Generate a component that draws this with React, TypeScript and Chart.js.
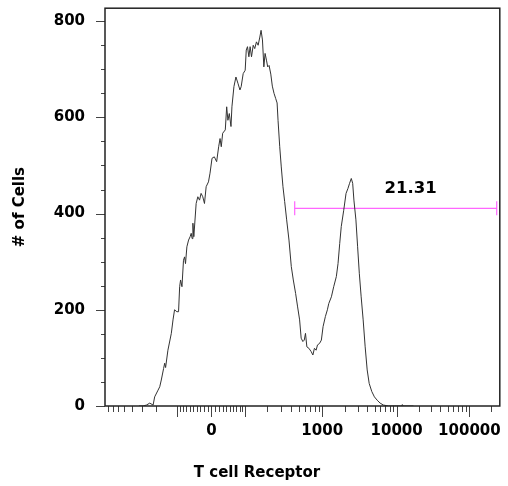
import React, { useEffect, useRef } from 'react';
import { Chart, registerables } from 'chart.js';

Chart.register(...registerables);

// Histogram: x = logicle display channel (0-256), y = # of cells
const channels = [
  22.0, 24.7, 26.9, 29.0, 31.2, 32.2, 34.4, 35.5, 36.5, 38.0, 38.7, 39.3, 40.8, 43.0, 44.1, 45.1,
  46.6, 47.7, 48.4, 49.0, 49.9, 50.9, 51.6, 52.2, 53.1, 54.2, 55.2, 55.9, 56.5, 57.0, 57.6, 59.1,
  60.2, 61.3, 62.3, 63.4, 64.5, 65.6, 67.1, 68.1, 69.4, 70.9, 72.4, 73.7, 74.6, 75.4, 76.3, 78.0,
  78.9, 79.7, 80.6, 81.7, 82.3, 83.6, 84.9, 86.2, 87.5, 88.3, 89.6, 90.9, 91.6, 92.4, 93.3, 94.1,
  95.0, 96.1, 97.1, 98.2, 99.3, 100.4, 101.2, 102.1, 103.0, 103.8, 104.7, 105.5, 106.4, 107.5, 108.5, 109.6,
  110.7, 111.6, 112.2, 113.3, 114.3, 115.4, 116.5, 117.8, 119.3, 120.8, 122.1, 123.6, 124.9, 126.2, 127.2, 128.3,
  129.2, 130.0, 130.9, 132.2, 133.7, 134.8, 135.8, 136.9, 137.8, 139.1, 140.3, 141.4, 142.9, 144.2, 145.1, 146.8,
  148.3, 150.0, 151.1, 152.2, 153.2, 154.8, 156.3, 157.5, 158.6, 159.7, 160.6, 161.4, 162.7, 163.8, 164.9, 166.1,
  167.4, 168.7, 170.0, 171.3, 173.0, 174.7, 176.5, 178.4, 180.5, 183.8, 192.3, 192.8, 193.3, 200.0,
];
const cellCounts = [
  0, 0, 2, 6, 2, 19, 33, 40, 54, 78, 89, 80, 116, 151, 179, 200,
  196, 196, 248, 262, 248, 303, 310, 296, 331, 345, 352, 359, 348, 380, 352, 421,
  435, 428, 442, 435, 421, 456, 466, 484, 515, 518, 508, 539, 556, 539, 567, 574,
  622, 594, 608, 581, 622, 664, 684, 671, 657, 664, 691, 698, 740, 747, 726, 747,
  726, 750, 743, 757, 750, 767, 781, 761, 705, 733, 719, 705, 708, 690, 665, 650,
  639, 630, 594, 539, 497, 456, 425, 387, 345, 290, 262, 234, 206, 179, 141, 134,
  137, 151, 123, 120, 113, 106, 120, 116, 127, 130, 137, 165, 186, 200, 213, 227,
  248, 269, 296, 338, 373, 407, 442, 452, 463, 473, 463, 428, 387, 331, 276, 227,
  179, 123, 75, 47, 30, 19, 12, 6, 2, 0, 0, 3, 0, 0,
];

// Gate (range marker) in channels, drawn at a count level
const gateChannels = [123, 254];
const gateCount = 411;
const gateLabel = '21.31';

// X axis (logicle) ticks, in fluorescence units
const xLabelValues = [0, 1000, 10000, 100000];
const xLabels = ['0', '1000', '10000', '100000'];
const xMajorValues = [-100, 0, 100, 1000, 10000, 100000];
const xMinorValues = [
  -900, -800, -700, -600, -500, -400, -300, -200,
  -90, -80, -70, -60, -50, -40, -30, -20, -10,
  10, 20, 30, 40, 50, 60, 70, 80, 90,
  200, 300, 400, 500, 600, 700, 800, 900,
  2000, 3000, 4000, 5000, 6000, 7000, 8000, 9000,
  20000, 30000, 40000, 50000, 60000, 70000, 80000, 90000,
  200000,
];

// Y axis ticks
const yMajorTicks = [0, 200, 400, 600, 800];
const yMinorTicks = [50, 100, 150, 250, 300, 350, 450, 500, 550, 650, 700, 750];
const yMax = 827;

const xTitle = 'T cell Receptor';
const yTitle = '# of Cells';

// Logicle transform (Parks/Moore), returns display position 0..1
function makeLogicle(T: number, W: number, M: number, A: number) {
  const w = W / (M + A);
  const x2 = A / (M + A);
  const x1 = x2 + w;
  const x0 = x2 + 2 * w;
  const b = (M + A) * Math.LN10;
  let lo = 1e-9;
  let hi = b;
  for (let i = 0; i < 200; i++) {
    const mid = (lo + hi) / 2;
    const f = 2 * (Math.log(mid) - Math.log(b)) + w * (b + mid);
    if (f > 0) hi = mid;
    else lo = mid;
  }
  const d = (lo + hi) / 2;
  const ca = Math.exp(x0 * (b + d));
  const mfa = Math.exp(b * x1) - ca / Math.exp(d * x1);
  const a = T / ((Math.exp(b) - mfa) - ca / Math.exp(d));
  const c = ca * a;
  const f = -mfa * a;
  const inverse = (y: number) => {
    const neg = y < x1;
    const s = neg ? 2 * x1 - y : y;
    const v = a * Math.exp(b * s) + f - c / Math.exp(d * s);
    return neg ? -v : v;
  };
  return (v: number) => {
    let l = -1;
    let h = 2;
    for (let i = 0; i < 80; i++) {
      const m = (l + h) / 2;
      if (inverse(m) < v) l = m;
      else h = m;
    }
    return (l + h) / 2;
  };
}

const logicle = makeLogicle(262144, 0.4, 4.374, 1.066);
const CHANNELS = 256;
const toChannel = (v: number) => CHANNELS * logicle(v);

const FONT = "'DejaVu Sans', sans-serif";

const zeroPadding = (scale: any) => {
  scale.paddingTop = 0;
  scale.paddingBottom = 0;
  scale.paddingLeft = 0;
  scale.paddingRight = 0;
};

const decorPlugin = {
  id: 'decor',
  afterDraw(chart: any) {
    const { ctx, chartArea, scales } = chart;
    const { left, right, top, bottom } = chartArea;
    const xs = scales.x;
    const ys = scales.y;
    ctx.save();
    // ticks
    ctx.strokeStyle = '#444';
    ctx.lineWidth = 1;
    ctx.beginPath();
    const drawY = (v: number, len: number) => {
      const p = Math.round(ys.getPixelForValue(v)) + 0.5;
      ctx.moveTo(left - len, p);
      ctx.lineTo(left, p);
    };
    yMajorTicks.forEach((v) => drawY(v, 9));
    yMinorTicks.forEach((v) => drawY(v, 4));
    const drawX = (v: number, len: number) => {
      const ch = toChannel(v);
      if (ch < 0 || ch > CHANNELS) return;
      const p = Math.round(xs.getPixelForValue(ch)) + 0.5;
      ctx.moveTo(p, bottom);
      ctx.lineTo(p, bottom + len);
    };
    xMajorValues.forEach((v) => drawX(v, 11));
    xMinorValues.forEach((v) => drawX(v, 6));
    ctx.stroke();
    // frame
    ctx.strokeStyle = '#222';
    ctx.lineWidth = 1.5;
    ctx.strokeRect(left, top, right - left, bottom - top);
    // x title
    ctx.fillStyle = '#000';
    ctx.font = `bold 15px ${FONT}`;
    ctx.textAlign = 'center';
    ctx.textBaseline = 'middle';
    ctx.fillText(xTitle, 257, 473);
    // gate label
    const gx = (xs.getPixelForValue(gateChannels[0]) + xs.getPixelForValue(gateChannels[1])) / 2 + 15;
    const gy = ys.getPixelForValue(gateCount) - 20;
    ctx.font = `bold 16.5px ${FONT}`;
    ctx.fillText(gateLabel, gx, gy);
    ctx.restore();
  },
};

export default function App() {
  const ref = useRef<HTMLCanvasElement | null>(null);
  useEffect(() => {
    if (!ref.current) return;
    const chart = new Chart(ref.current, {
      type: 'line',
      data: {
        datasets: [
          {
            data: channels.map((c, i) => ({ x: c, y: cellCounts[i] })),
            borderColor: '#333',
            borderWidth: 1,
            pointRadius: 0,
            tension: 0,
            fill: false,
          },
          {
            data: gateChannels.map((c) => ({ x: c, y: gateCount })),
            borderColor: '#ff66ff',
            borderWidth: 1.2,
            pointStyle: 'line',
            rotation: 90,
            pointRadius: 7,
            pointBorderColor: '#ff66ff',
            pointBorderWidth: 1.2,
            tension: 0,
            fill: false,
          },
        ],
      } as any,
      options: {
        animation: false,
        responsive: false,
        layout: { padding: { left: 0, right: 6, top: 8, bottom: 0 } },
        plugins: { legend: { display: false }, tooltip: { enabled: false } },
        scales: {
          x: {
            type: 'linear',
            min: 0,
            max: CHANNELS,
            grid: { display: false, drawTicks: false },
            border: { display: false },
            afterBuildTicks: (scale: any) => {
              scale.ticks = xLabelValues.map((v) => ({ value: toChannel(v) }));
            },
            afterFit: (scale: any) => {
              scale.height = 80;
              zeroPadding(scale);
            },
            ticks: {
              autoSkip: false,
              maxRotation: 0,
              padding: 16,
              color: '#000',
              font: { family: FONT, size: 15, weight: 'bold' },
              callback: (_v: any, i: number) => xLabels[i],
            },
          },
          y: {
            type: 'linear',
            min: 0,
            max: yMax,
            grid: { display: false, drawTicks: false },
            border: { display: false },
            afterBuildTicks: (scale: any) => {
              scale.ticks = yMajorTicks.map((v) => ({ value: v }));
            },
            afterFit: (scale: any) => {
              scale.width = 105;
              zeroPadding(scale);
            },
            ticks: {
              padding: 20,
              color: '#000',
              font: { family: FONT, size: 15, weight: 'bold' },
              callback: (v: any) => String(v),
            },
            title: {
              display: true,
              text: yTitle,
              color: '#000',
              font: { family: FONT, size: 15, weight: 'bold' },
              padding: { top: 11, bottom: 0 },
            },
          },
        },
      } as any,
      plugins: [decorPlugin],
    });
    return () => chart.destroy();
  }, []);
  return (
    <div style={{ position: 'fixed', left: 0, top: 0, width: 508, height: 486 }}>
      <canvas ref={ref} width={508} height={486} style={{ display: 'block' }} />
    </div>
  );
}
